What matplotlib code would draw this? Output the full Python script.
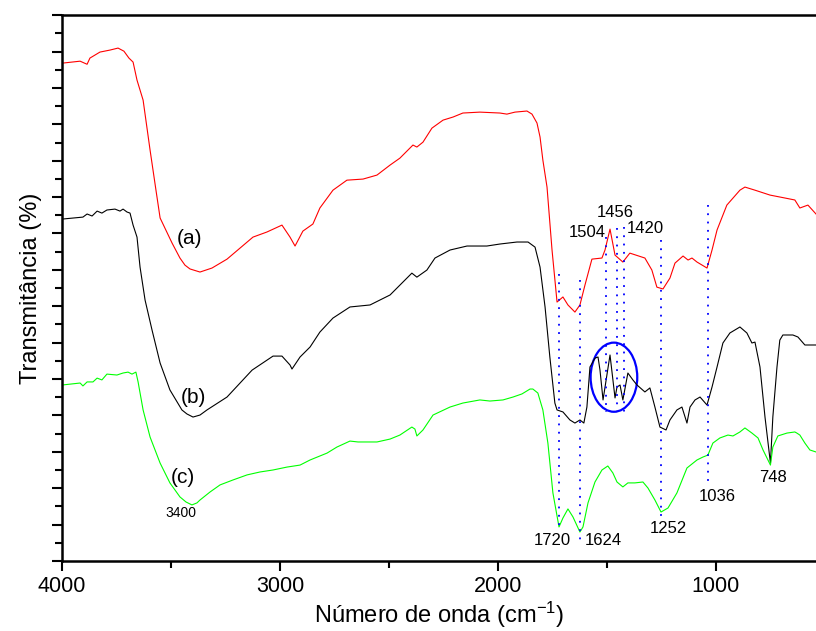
import matplotlib
matplotlib.use("Agg")
import matplotlib.pyplot as plt
from matplotlib.patches import Ellipse
from matplotlib.ticker import MultipleLocator

plt.rcParams['font.family'] = ['Liberation Sans', 'DejaVu Sans']

# Espectros FTIR (numero de onda, transmitancia em unid. arbitrarias)
wn_a = [4000, 3917, 3885, 3872, 3826, 3780, 3743, 3716, 3693, 3674, 3656, 3628, 3596,
        3569, 3550, 3495, 3459, 3436, 3413, 3367, 3312, 3243, 3124, 3060, 2991, 2954, 2931, 2895,
        2849, 2817, 2757, 2693, 2619, 2555, 2495, 2450, 2390, 2372, 2344, 2303, 2252,
        2206, 2161, 2083, 1991, 1959, 1922, 1867, 1844, 1821, 1807, 1794, 1775, 1752,
        1729, 1702, 1679, 1647, 1624, 1601, 1569, 1523, 1509, 1486, 1463, 1427, 1395,
        1326, 1294, 1271, 1243, 1211, 1188, 1151, 1128, 1110, 1087, 1041, 1018, 995,
        950, 890, 867, 821, 752, 684, 638, 615, 578, 541]
tr_a = [27.36, 27.47, 27.30, 27.64, 27.97, 28.08, 28.19, 28.02, 27.64, 27.42, 26.43, 25.33, 22.58,
        20.38, 18.85, 17.47, 16.65, 16.26, 16.05, 15.88, 16.10, 16.59, 17.80, 18.08, 18.46, 17.80, 17.31, 18.13,
        18.52, 19.40, 20.38, 20.93, 20.99, 21.21, 21.76, 22.14, 22.86, 22.75, 23.02, 23.79, 24.23,
        24.40, 24.62, 24.67, 24.62, 24.56, 24.67, 24.73, 24.56, 24.07, 23.30, 22.03, 20.55, 17.09,
        14.23, 14.51, 14.07, 13.68, 14.07, 15.16, 16.59, 16.65, 17.09, 18.24, 16.81, 16.43, 16.92,
        16.65, 15.99, 15.05, 14.95, 15.55, 16.37, 16.76, 16.54, 16.65, 16.43, 16.10, 17.09, 18.19,
        19.56, 20.38, 20.55, 20.38, 20.11, 19.95, 19.84, 19.40, 19.56, 19.07]

wn_b = [4000, 3904, 3885, 3862, 3839, 3817, 3794, 3757, 3734, 3720, 3702, 3688, 3674, 3656,
        3642, 3619, 3587, 3550, 3505, 3450, 3427, 3399, 3367, 3335, 3243, 3128, 3032, 2991, 2954, 2945,
        2908, 2862, 2817, 2757, 2679, 2587, 2495, 2395, 2372, 2326, 2289, 2220, 2142, 2051,
        1991, 1913, 1862, 1830, 1807, 1784, 1762, 1739, 1729, 1702, 1670, 1647, 1624, 1606,
        1592, 1578, 1555, 1541, 1532, 1518, 1486, 1463, 1454, 1440, 1427, 1404, 1381, 1362,
        1326, 1303, 1280, 1257, 1229, 1211, 1179, 1156, 1133, 1119, 1096, 1073, 1041, 1018,
        995, 968, 936, 890, 858, 835, 821, 798, 775, 750, 739, 720, 707, 693, 647, 624, 592, 541]
tr_b = [18.79, 18.90, 19.07, 18.96, 19.23, 19.12, 19.29, 19.34, 19.23, 19.34, 19.18, 19.12, 18.46, 17.80,
        16.15, 14.34, 12.69, 10.88, 9.40, 8.30, 8.08, 7.91, 8.02, 8.30, 9.01, 10.49, 11.26, 11.26, 10.77, 10.55,
        11.21, 11.76, 12.58, 13.35, 13.96, 14.07, 14.62, 15.82, 15.60, 15.99, 16.65, 17.09, 17.31, 17.31,
        17.42, 17.53, 17.53, 17.25, 16.15, 13.96, 11.21, 8.68, 8.30, 8.19, 7.75, 7.58, 7.75, 7.58,
        8.46, 10.66, 11.15, 11.21, 10.49, 8.85, 11.32, 8.96, 9.56, 9.67, 8.85, 10.33, 9.95, 9.67,
        9.29, 9.51, 8.46, 7.36, 7.20, 7.75, 8.30, 8.46, 7.58, 8.46, 8.85, 9.01, 8.57, 9.56,
        10.66, 11.98, 12.53, 12.86, 12.53, 11.98, 12.03, 10.66, 7.91, 5.38, 7.91, 10.66, 12.14, 12.42,
        12.42, 12.31, 11.87, 11.87]

wn_c = [4000, 3917, 3904, 3885, 3858, 3839, 3817, 3794, 3748, 3720, 3697, 3679, 3661, 3651,
        3628, 3596, 3550, 3505, 3459, 3431, 3404, 3381, 3367, 3321, 3275, 3216, 3151, 3092, 3032, 2968,
        2908, 2862, 2784, 2739, 2679, 2642, 2555, 2495, 2450, 2395, 2381, 2372, 2344, 2298,
        2220, 2161, 2083, 2037, 1977, 1931, 1890, 1853, 1840, 1817, 1794, 1771, 1748, 1720,
        1702, 1679, 1656, 1624, 1610, 1587, 1555, 1523, 1496, 1473, 1454, 1427, 1404, 1372,
        1335, 1312, 1280, 1252, 1220, 1179, 1133, 1087, 1060, 1037, 1014, 982, 945, 922,
        890, 867, 835, 807, 784, 750, 739, 716, 674, 638, 629, 615, 592, 569, 541]
tr_c = [9.67, 9.78, 9.62, 9.84, 9.84, 10.05, 9.95, 10.27, 10.22, 10.33, 10.38, 10.27, 10.38, 9.84,
        8.30, 6.81, 5.38, 4.29, 3.52, 3.24, 3.08, 3.19, 3.35, 3.79, 4.18, 4.45, 4.73, 4.89, 5.00, 5.16,
        5.27, 5.55, 5.93, 6.26, 6.59, 6.54, 6.54, 6.70, 6.92, 7.36, 7.25, 6.87, 7.20, 8.02,
        8.46, 8.68, 8.85, 8.79, 8.85, 9.01, 9.18, 9.45, 9.45, 9.23, 8.30, 6.48, 3.74, 1.87,
        2.36, 2.86, 2.42, 1.59, 1.87, 3.19, 4.34, 5.00, 5.22, 4.84, 4.34, 4.07, 4.29, 4.29,
        4.34, 4.01, 3.35, 2.69, 2.91, 3.74, 5.11, 5.55, 5.71, 5.82, 6.48, 6.76, 6.92, 6.87,
        7.09, 7.31, 7.03, 6.76, 6.10, 5.27, 6.26, 6.87, 7.03, 7.09, 7.03, 6.92, 6.48, 6.10, 5.99]

# linhas pontilhadas das bandas: posicao, inicio, fim
bandas = [1720, 1624, 1504, 1456, 1420, 1252, 1036]
banda_topo = [15.77, 15.44, 17.80, 18.30, 18.35, 17.64, 19.56]
banda_base = [1.87, 0.99, 8.19, 8.19, 8.19, 2.42, 4.07]

# rotulos: texto, x, y, tamanho
rotulos = [("(a)", 3413, 17.75, 15), ("(b)", 3399, 8.96, 15), ("(c)", 3445, 4.56, 15),
           ("3400", 3454, 2.64, 10), ("1504", 1592, 18.08, 12), ("1456", 1463, 19.18, 12),
           ("1420", 1326, 18.30, 12), ("1720", 1752, 1.10, 12), ("1624", 1518, 1.10, 12),
           ("1252", 1216, 1.76, 12), ("1036", 995, 3.52, 12), ("748", 739, 4.56, 12)]

fig = plt.figure(figsize=(8.16, 6.31), dpi=100)
ax = fig.add_axes([0.076, 0.111, 0.924, 0.865])

ax.plot(wn_a, tr_a, color="#ff0000", lw=0.8)
ax.plot(wn_b, tr_b, color="black", lw=0.8)
ax.plot(wn_c, tr_c, color="#00ff00", lw=0.8)

for x, y0, y1 in zip(bandas, banda_topo, banda_base):
    ax.plot([x, x], [y0, y1], color="#0000ff", lw=1.3, linestyle=(0, (1, 3.6)))

ax.add_patch(Ellipse((1468, 10.1), 214, 3.8, fill=False, edgecolor="#0000ff", lw=1.6))

for txt, x, y, fs in rotulos:
    ax.text(x, y, txt, fontsize=fs, ha="center", va="center")

ax.set_xlim(4000, 541)
ax.set_ylim(0, 30)
ax.xaxis.set_major_locator(MultipleLocator(1000))
ax.xaxis.set_minor_locator(MultipleLocator(500))
ax.yaxis.set_major_locator(MultipleLocator(2))
ax.yaxis.set_minor_locator(MultipleLocator(1))
ax.set_yticklabels([])
ax.tick_params(which="major", direction="out", length=7, width=1.5, labelsize=15.5)
ax.tick_params(which="minor", direction="out", length=5, width=1.5)
ax.spines["right"].set_visible(False)
for s in ["left", "bottom", "top"]:
    ax.spines[s].set_linewidth(1.8)

ax.set_xlabel(r"Número de onda (cm$\mathregular{^{-1}}$)", fontsize=17, labelpad=2)
ax.set_ylabel("Transmitância (%)", fontsize=17, labelpad=4)

fig.savefig("out.png", dpi=100)
